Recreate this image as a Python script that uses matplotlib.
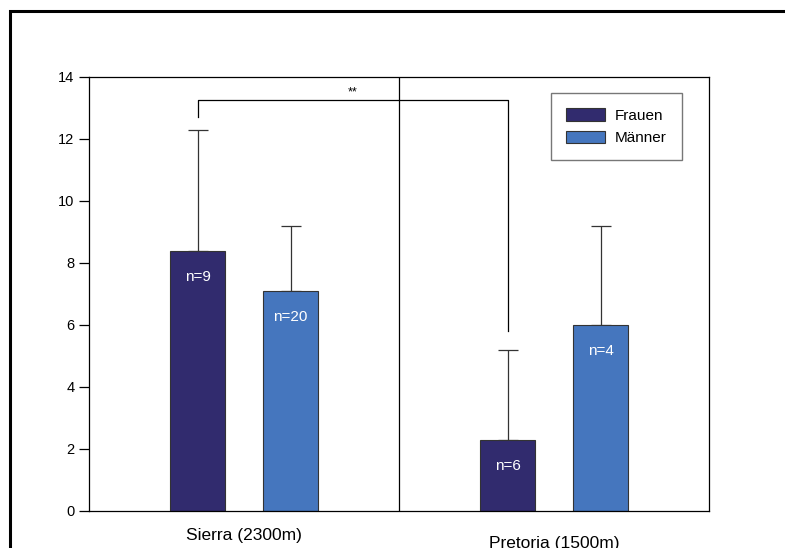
import numpy as np
import matplotlib
matplotlib.use("Agg")
import matplotlib.pyplot as plt
from matplotlib.patches import Rectangle

# data
orte = ["Sierra (2300m)", "Pretoria (1500m)"]
frauen = [8.4, 2.3]
frauen_err = [3.9, 2.9]
maenner = [7.1, 6.0]
maenner_err = [2.1, 3.2]
n_frauen = ["n=9", "n=6"]
n_maenner = ["n=20", "n=4"]

col_f = "#312b6e"
col_m = "#4576be"

plt.rcParams['font.family'] = ['Liberation Sans', 'DejaVu Sans']

fig = plt.figure(figsize=(7.85, 5.48), dpi=100)
ax = fig.add_axes([89 / 785, 1 - 511 / 548, 620 / 785, 434 / 548])

x = np.arange(len(orte))
w = 0.18
off = 0.15

ax.bar(x - off, frauen, w, color=col_f, edgecolor="#333333", linewidth=0.8,
       label="Frauen", zorder=2)
ax.bar(x + off, maenner, w, color=col_m, edgecolor="#333333", linewidth=0.8,
       label="Männer", zorder=2)

# upper error bars only
ax.errorbar(x - off, frauen, yerr=[np.zeros(2), frauen_err], fmt="none",
            ecolor="#333333", elinewidth=0.9, capsize=7, capthick=0.9, zorder=1)
ax.errorbar(x + off, maenner, yerr=[np.zeros(2), maenner_err], fmt="none",
            ecolor="#333333", elinewidth=0.9, capsize=7, capthick=0.9, zorder=1)

# n labels inside bars
for i in range(len(orte)):
    ax.text(x[i] - off, frauen[i] - 0.85, n_frauen[i], color="white",
            ha="center", va="center", fontsize=11, zorder=3)
    ax.text(x[i] + off, maenner[i] - 0.85, n_maenner[i], color="white",
            ha="center", va="center", fontsize=11, zorder=3)

# divider between groups
ax.axvline(0.5, color="black", linewidth=0.9, zorder=1)

# significance bracket
ax.plot([x[0] - off, x[0] - off, x[1] - off, x[1] - off],
        [12.7, 13.25, 13.25, 5.8], color="black", linewidth=0.9, zorder=1)
ax.text(0.35, 13.3, "**", ha="center", va="bottom", fontsize=9)

ax.set_xlim(-0.5, 1.5)
ax.set_ylim(0, 14)
ax.set_yticks(np.arange(0, 15, 2))
ax.tick_params(axis="y", direction="out", length=7, width=0.9, labelsize=10.5)
ax.set_xticks([])
for s in ax.spines.values():
    s.set_linewidth(0.9)

ax.text(x[0], -0.55, orte[0], ha="center", va="top", fontsize=12.5,
        transform=ax.transData, clip_on=False)
ax.text(x[1], -0.8, orte[1], ha="center", va="top", fontsize=12.5,
        transform=ax.transData, clip_on=False)

leg = ax.legend(loc="upper right", bbox_to_anchor=(0.9565, 0.963), fontsize=11,
                frameon=True, fancybox=False, edgecolor="#555555",
                borderaxespad=0, handlelength=2.55, handleheight=0.9,
                borderpad=1.0, labelspacing=0.5, handletextpad=0.65)
leg.get_frame().set_linewidth(1.0)

# outer frame of the figure
fig.patches.append(Rectangle((10 / 785, -0.1), 1.0, 1 - 11 / 548 + 0.1,
                             transform=fig.transFigure, fill=False,
                             edgecolor="black", linewidth=2.2))

fig.savefig("out.png", dpi=100)
